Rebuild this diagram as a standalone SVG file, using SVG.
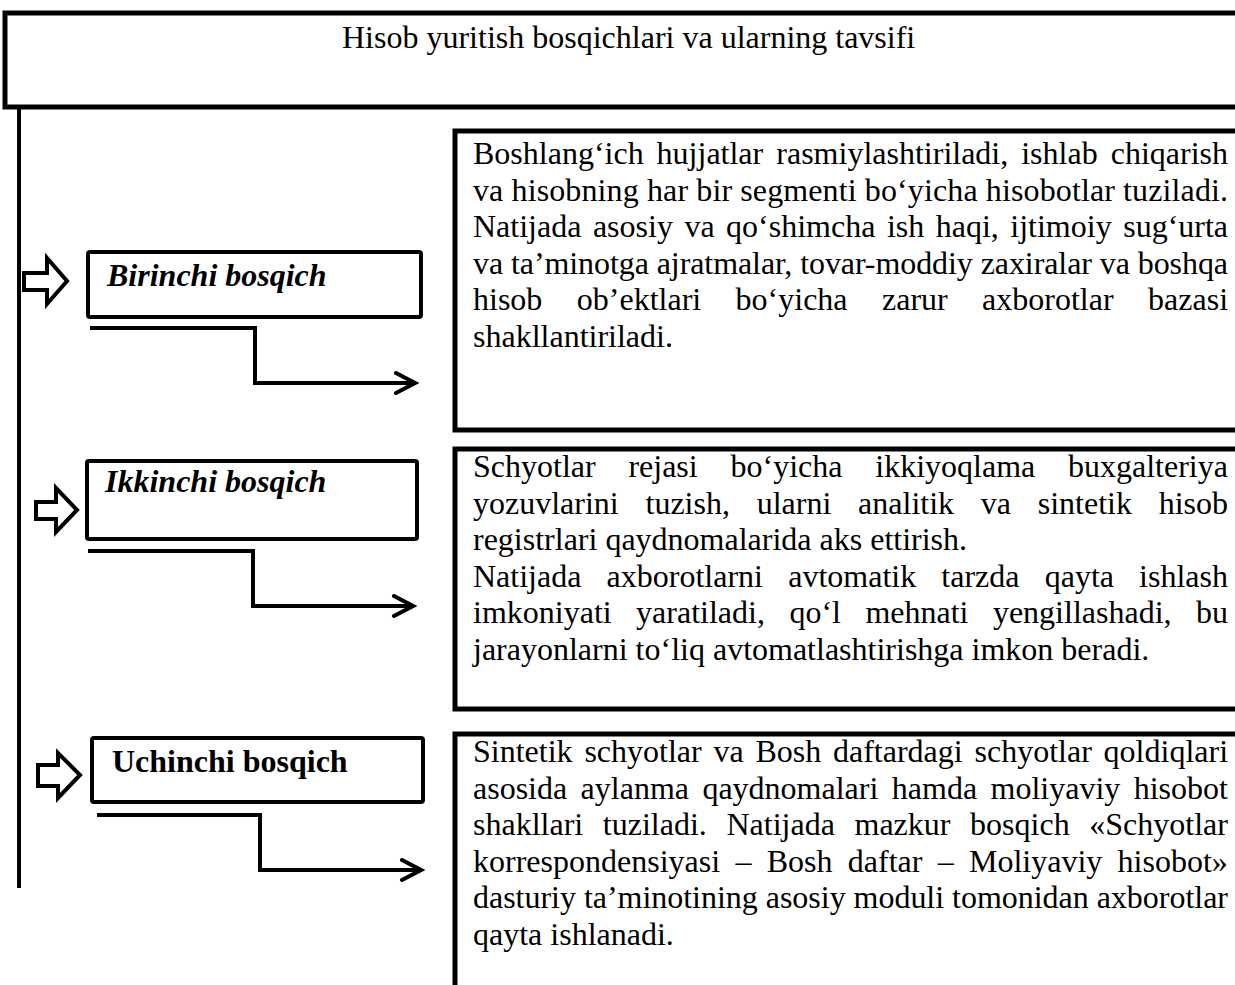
<svg xmlns="http://www.w3.org/2000/svg" width="1235" height="985" viewBox="0 0 1235 985">
<style>
.box{fill:#fff;stroke:#000;stroke-width:5}
.lbox{fill:#fff;stroke:#000;stroke-width:4}
.txt{font-family:"Liberation Serif","Times New Roman",serif;font-size:32px;fill:#000}
.bi{font-weight:bold;font-style:italic}
.b{font-weight:bold}
.conn{fill:none;stroke:#000;stroke-width:4;stroke-linejoin:miter}
.blk{fill:#fff;stroke:#000;stroke-width:4;stroke-linejoin:miter}
</style>
<defs>
<marker id="chev" viewBox="-2 -2 26 26" refX="20" refY="10" markerWidth="26" markerHeight="26" markerUnits="userSpaceOnUse" orient="auto">
<path d="M1,0 L20,10 L1,20" fill="none" stroke="#000" stroke-width="4" stroke-linecap="round" stroke-linejoin="miter"/>
</marker>
</defs>
<rect width="1235" height="985" fill="#fff"/>

<g id="title">
<rect class="box" x="5" y="13" width="1245" height="94"/>
<text class="txt" x="342" y="48">Hisob yuritish bosqichlari va ularning tavsifi</text>
</g>

<g id="connectors">
<line x1="19" y1="106" x2="19" y2="888" stroke="#000" stroke-width="4"/>
<path class="conn" d="M90,328 H255 V383 H415" marker-end="url(#chev)"/>
<path class="conn" d="M88,551 H253 V606 H413" marker-end="url(#chev)"/>
<path class="conn" d="M97,815 H260 V870 H421" marker-end="url(#chev)"/>
<polygon class="blk" points="24,273 47,273 47,258 67,281 47,304 47,290 24,290"/>
<polygon class="blk" points="36,502 56,502 56,488 77,510 56,532 56,519 36,519"/>
<polygon class="blk" points="38,765 58,765 58,753 80,775 58,798 58,786 38,786"/>
</g>

<g id="stage1">
<rect class="lbox" x="88" y="252" width="333" height="65" rx="2"/>
<text class="txt bi" x="107" y="286">Birinchi bosqich</text>
</g>

<g id="stage2">
<rect class="lbox" x="87" y="461" width="330" height="78" rx="2"/>
<text class="txt bi" x="105" y="492">Ikkinchi bosqich</text>
</g>

<g id="stage3">
<rect class="lbox" x="92" y="738" width="331" height="64" rx="2"/>
<text class="txt b" x="112" y="772">Uchinchi bosqich</text>
</g>

<g id="desc1">
<rect class="box" x="455" y="131" width="790" height="299"/>
<text class="txt" y="164"><tspan x="473">Boshlang‘ich</tspan><tspan x="656.6">hujjatlar</tspan><tspan x="776.3">rasmiylashtiriladi,</tspan><tspan x="1021.2">ishlab</tspan><tspan x="1110.7">chiqarish</tspan></text>
<text class="txt" x="473" y="200.6" textLength="755" lengthAdjust="spacing">va hisobning har bir segmenti bo‘yicha hisobotlar tuziladi.</text>
<text class="txt" y="237.2"><tspan x="473">Natijada</tspan><tspan x="592.9">asosiy</tspan><tspan x="684.4">va</tspan><tspan x="726.1">qo‘shimcha</tspan><tspan x="886.9">ish</tspan><tspan x="935.7">haqi,</tspan><tspan x="1010.3">ijtimoiy</tspan><tspan x="1123.2">sug‘urta</tspan></text>
<text class="txt" x="473" y="273.8" textLength="755" lengthAdjust="spacing">va ta’minotga ajratmalar, tovar-moddiy zaxiralar va boshqa</text>
<text class="txt" y="310.4"><tspan x="473">hisob</tspan><tspan x="576.8">ob’ektlari</tspan><tspan x="735.6">bo‘yicha</tspan><tspan x="882">zarur</tspan><tspan x="982.1">axborotlar</tspan><tspan x="1148.1">bazasi</tspan></text>
<text class="txt" x="473" y="347">shakllantiriladi.</text>
</g>

<g id="desc2">
<rect class="box" x="455" y="449" width="790" height="260"/>
<text class="txt" y="477"><tspan x="473">Schyotlar</tspan><tspan x="628.4">rejasi</tspan><tspan x="730.5">bo‘yicha</tspan><tspan x="875.3">ikkiyoqlama</tspan><tspan x="1068">buxgalteriya</tspan></text>
<text class="txt" y="513.6"><tspan x="473">yozuvlarini</tspan><tspan x="645.5">tuzish,</tspan><tspan x="756.7">ularni</tspan><tspan x="858.1">analitik</tspan><tspan x="980.8">va</tspan><tspan x="1037.7">sintetik</tspan><tspan x="1158.7">hisob</tspan></text>
<text class="txt" x="473" y="550.2">registrlari qaydnomalarida aks ettirish.</text>
<text class="txt" y="586.8"><tspan x="473">Natijada</tspan><tspan x="606.6">axborotlarni</tspan><tspan x="788.2">avtomatik</tspan><tspan x="941.3">tarzda</tspan><tspan x="1044.7">qayta</tspan><tspan x="1139.1">ishlash</tspan></text>
<text class="txt" y="623.4"><tspan x="473">imkoniyati</tspan><tspan x="636.1">yaratiladi,</tspan><tspan x="789.4">qo‘l</tspan><tspan x="865.4">mehnati</tspan><tspan x="992.9">yengillashadi,</tspan><tspan x="1196">bu</tspan></text>
<text class="txt" x="473" y="660">jarayonlarni to‘liq avtomatlashtirishga imkon beradi.</text>
</g>

<g id="desc3">
<rect class="box" x="455" y="734" width="790" height="270"/>
<text class="txt" y="762"><tspan x="473">Sintetik</tspan><tspan x="584.4">schyotlar</tspan><tspan x="713.5">va</tspan><tspan x="755.5">Bosh</tspan><tspan x="833">daftardagi</tspan><tspan x="974.5">schyotlar</tspan><tspan x="1103.6">qoldiqlari</tspan></text>
<text class="txt" y="798.6"><tspan x="473">asosida</tspan><tspan x="580.6">aylanma</tspan><tspan x="702.4">qaydnomalari</tspan><tspan x="891.8">hamda</tspan><tspan x="990.5">moliyaviy</tspan><tspan x="1133.7">hisobot</tspan></text>
<text class="txt" y="835.2"><tspan x="473">shakllari</tspan><tspan x="602.8">tuziladi.</tspan><tspan x="726.5">Natijada</tspan><tspan x="854.5">mazkur</tspan><tspan x="970.1">bosqich</tspan><tspan x="1089.3">«Schyotlar</tspan></text>
<text class="txt" y="871.8"><tspan x="473">korrespondensiyasi</tspan><tspan x="735.4">–</tspan><tspan x="766.7">Bosh</tspan><tspan x="847.8">daftar</tspan><tspan x="937.7">–</tspan><tspan x="969">Moliyaviy</tspan><tspan x="1117.6">hisobot»</tspan></text>
<text class="txt" x="473" y="908.4" textLength="755" lengthAdjust="spacing">dasturiy ta’minotining asosiy moduli tomonidan axborotlar</text>
<text class="txt" x="473" y="945">qayta ishlanadi.</text>
</g>
</svg>
